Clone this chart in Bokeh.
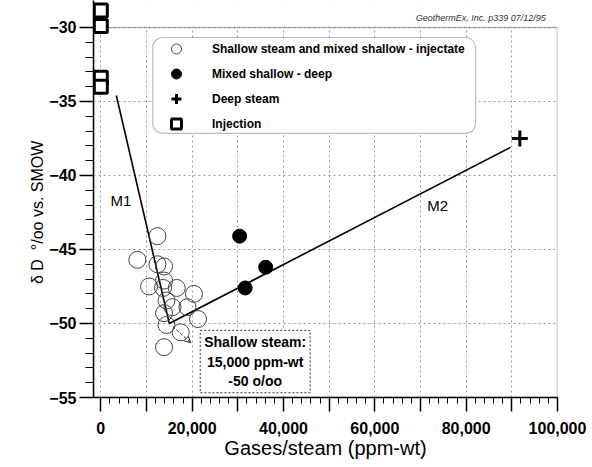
import numpy as np
from bokeh.plotting import figure
from bokeh.models import (FixedTicker, Legend, LegendItem, BoxAnnotation, Label,
                          Arrow, OpenHead, Range1d)
from bokeh.embed import file_html
from bokeh.resources import INLINE

# ---------------- data ----------------
shallow_x = [12400, 8000, 12400, 13850, 10570, 13850, 13630, 16630, 20400,
             14380, 15690, 18970, 13850, 21300, 14380, 17500, 13850]
shallow_y = [-44.1, -45.7, -46.0, -46.15, -47.5, -47.1, -47.6, -47.6, -48.0,
             -48.45, -48.9, -48.9, -49.3, -49.7, -50.1, -50.6, -51.6]
mixed_x = [30400, 36100, 31600]
mixed_y = [-44.1, -46.2, -47.6]
deep_x = [91750]
deep_y = [-37.5]
inj_x = [0, 0, 0, 0]
inj_y = [-28.85, -29.9, -33.4, -34.0]
m1_x = [3400, 15000]
m1_y = [-34.6, -50.0]
m2_x = [15000, 89700]
m2_y = [-50.0, -38.1]
x_ticks = list(range(0, 100001, 10000))
x_minor = list(range(0, 100001, 2000))
x_labels = {t: (f"{t:,}" if t % 20000 == 0 else "") for t in x_ticks}
y_ticks = [-55, -50, -45, -40, -35, -30]
y_minor = list(range(-55, -29))
legend_labels = ["Shallow steam and mixed shallow - injectate",
                 "Mixed shallow - deep", "Deep steam", "Injection"]

FONT = "Liberation Sans"

p = figure(width=592, height=467, x_range=Range1d(-1600, 100000),
           y_range=Range1d(-55, -28.18), output_backend="svg",
           toolbar_location=None, min_border_left=93, min_border_right=35,
           min_border_top=0, min_border_bottom=70)
p.outline_line_color = None

# axes
p.xaxis.ticker = FixedTicker(ticks=x_ticks, minor_ticks=x_minor)
p.xaxis.major_label_overrides = x_labels
p.yaxis.ticker = FixedTicker(ticks=y_ticks, minor_ticks=y_minor)
for ax in (p.xaxis[0], p.yaxis[0]):
    ax.axis_line_width = 1.5
    ax.axis_line_color = "black"
    ax.major_tick_line_width = 1.5
    ax.major_tick_line_color = "black"
    ax.minor_tick_line_color = "black"
    ax.minor_tick_line_width = 1
    ax.major_tick_in = 0
    ax.minor_tick_in = 0
    ax.major_tick_out = 14
    ax.major_label_text_font = FONT
    ax.major_label_text_font_style = "bold"
    ax.major_label_text_font_size = "16px"
    ax.major_label_text_color = "black"
p.xaxis.minor_tick_out = 6
p.yaxis.minor_tick_out = 8
p.xaxis.major_label_standoff = 10
p.yaxis.major_label_standoff = 3
p.xaxis.axis_label = "Gases/steam (ppm-wt)"
p.xaxis.axis_label_text_font = FONT
p.xaxis.axis_label_text_font_style = "normal"
p.xaxis.axis_label_text_font_size = "20px"
p.xaxis.axis_label_text_color = "black"
p.xaxis.axis_label_standoff = 0
NB = "\u00a0"
p.yaxis.axis_label = "δ D" + NB * 2 + "°/oo vs. SMOW" + NB * 6
p.yaxis.axis_label_text_font = FONT
p.yaxis.axis_label_text_font_style = "normal"
p.yaxis.axis_label_text_font_size = "16px"
p.yaxis.axis_label_text_color = "black"
p.yaxis.axis_label_standoff = 0

p.grid.grid_line_color = "#999999"
p.grid.grid_line_dash = "2 3"
p.grid.grid_line_width = 1

# cover grid above the -30 frame line, then draw frame border
p.add_layout(BoxAnnotation(bottom=-30, fill_color="white", fill_alpha=1,
                           line_alpha=0, level="underlay"))
p.add_layout(BoxAnnotation(right=100000, top=-30,
                           fill_alpha=0, line_color="black", line_width=1.5,
                           level="underlay"))
# legend box
p.add_layout(BoxAnnotation(left=11380, right=82060, top=-30.68, bottom=-37.16,
                           fill_color="white", fill_alpha=1, line_color="#222222",
                           line_width=1.2, border_radius=10, level="underlay"))

# mixing lines
p.line(m1_x, m1_y, line_color="black", line_width=1.6)
p.line(m2_x, m2_y, line_color="black", line_width=1.6)

r_open = p.scatter(shallow_x, shallow_y, marker="circle", size=17,
                   fill_alpha=0, line_color="#444444", line_width=1)
r_mixed = p.scatter(mixed_x, mixed_y, marker="circle", size=14,
                    fill_color="black", line_color="black")
r_deep = p.scatter(deep_x, deep_y, marker="cross", size=16,
                   line_color="black", line_width=3)
r_inj = p.scatter(inj_x, inj_y, marker="square", size=13, fill_color="white",
                  line_color="black", line_width=3)

legend = Legend(items=[LegendItem(label=legend_labels[0], renderers=[r_open]),
                       LegendItem(label=legend_labels[1], renderers=[r_mixed]),
                       LegendItem(label=legend_labels[2], renderers=[r_deep]),
                       LegendItem(label=legend_labels[3], renderers=[r_inj])],
                location=(61, 261), glyph_width=44, glyph_height=25,
                label_height=25, spacing=0, padding=0, margin=0,
                label_standoff=14, border_line_alpha=0,
                background_fill_alpha=0, label_text_font=FONT,
                label_text_font_style="bold", label_text_font_size="12px",
                label_text_color="black")
p.add_layout(legend)

# texts
p.add_layout(Label(x=4380, y=-41.7, text="M1", text_align="center",
                   text_baseline="middle", text_font=FONT,
                   text_font_size="15px", text_color="black"))
p.add_layout(Label(x=73740, y=-42.0, text="M2", text_align="center",
                   text_baseline="middle", text_font=FONT,
                   text_font_size="15px", text_color="black"))
p.add_layout(Label(x=33800, y=-52.57, text="Shallow steam:\n15,000 ppm-wt\n-50 o/oo",
                   text_align="center", text_baseline="middle", text_font=FONT,
                   text_font_style="bold", text_font_size="14px",
                   text_color="black", text_line_height=1.2,
                   border_line_color="#333333", border_line_dash="2 2",
                   background_fill_color="white", padding=4))
p.add_layout(Arrow(x_start=15750, y_start=-50.2, x_end=19700, y_end=-51.3,
                   line_dash="3 2", line_width=1, line_color="#222222",
                   end=OpenHead(size=6, line_width=1, line_color="#222222")))
p.add_layout(Label(x=98000, y=-29.35, text="GeothermEx, Inc.  p339 07/12/95",
                   text_align="right", text_baseline="middle", text_font=FONT,
                   text_font_style="italic", text_font_size="9px",
                   text_color="#333333"))

open("out.html", "w").write(file_html(p, INLINE))
